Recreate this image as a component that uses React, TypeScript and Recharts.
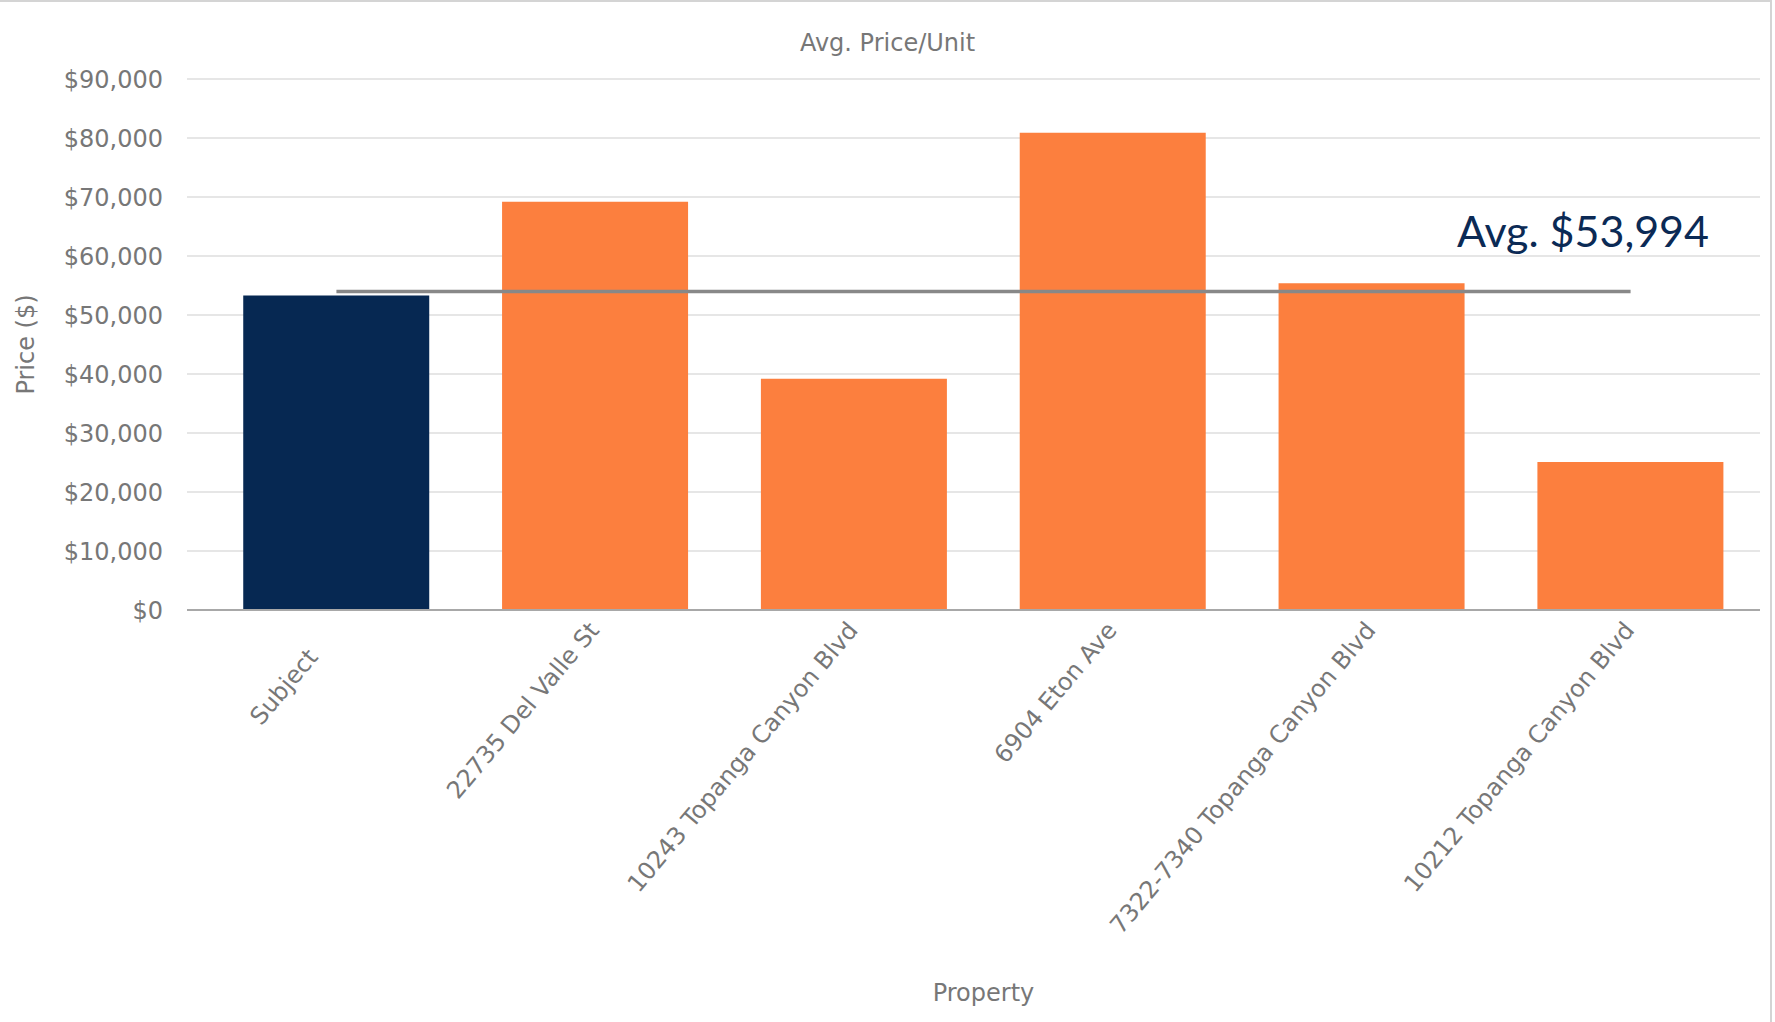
import { ComposedChart, Bar, Line, XAxis, YAxis, CartesianGrid, Cell, Label } from 'recharts';

const PROPERTIES = [
  'Subject',
  '22735 Del Valle St',
  '10243 Topanga Canyon Blvd',
  '6904 Eton Ave',
  '7322-7340 Topanga Canyon Blvd',
  '10212 Topanga Canyon Blvd',
];
const PRICE_PER_UNIT = [53300, 69200, 39200, 80900, 55400, 25100];
const AVG_PRICE = 53994;
const Y_TICKS = [0, 10000, 20000, 30000, 40000, 50000, 60000, 70000, 80000, 90000];
const BAR_COLORS = ['#062852', '#FC7F3E', '#FC7F3E', '#FC7F3E', '#FC7F3E', '#FC7F3E'];

const FONT = '"DejaVu Sans", sans-serif';
const GREY = '#777777';

const data = PROPERTIES.map((name, i) => ({ name, price: PRICE_PER_UNIT[i], avg: AVG_PRICE }));

const AngledTick = (props: any) => {
  const { x, y, payload, index } = props;
  // the subject label sits a little further down its slope in the original
  const along = index === 0 ? -35 : 0;
  return (
    <g transform={`translate(${x - 8},${y})`}>
      <text x={along} y={0} dy={17} textAnchor="end" transform="rotate(-50)" fill={GREY} fontSize={24} fontFamily={FONT}>
        {payload.value}
      </text>
    </g>
  );
};

export default function App() {
  return (
    <div style={{ position: 'absolute', left: 0, top: 0, width: 1775, height: 1022, background: '#fff', fontFamily: FONT }}>
      {/* frame edge */}
      <div style={{ position: 'absolute', left: 0, top: 0, width: 1772, height: 1022, borderTop: '2px solid #d4d4d4', borderRight: '2px solid #d4d4d4', boxSizing: 'border-box' }} />
      <div style={{ position: 'absolute', left: 0, top: 29, width: 1775, textAlign: 'center', fontSize: 24, color: GREY, lineHeight: '28px' }}>
        Avg. Price/Unit
      </div>
      <ComposedChart width={1775} height={1022} data={data} margin={{ top: 79, right: 15, bottom: 0, left: 0 }} barCategoryGap="14%">
        <CartesianGrid vertical={false} stroke="#e6e6e6" strokeWidth={2} />
        <XAxis
          dataKey="name"
          height={412}
          interval={0}
          padding={{ left: 20, right: 0 }}
          tickLine={false}
          tickSize={0}
          tickMargin={10}
          axisLine={{ stroke: '#a8a8a8', strokeWidth: 2 }}
          tick={<AngledTick />}
        >
          <Label value="Property" position="insideBottom" offset={21} dx={10} fill={GREY} fontSize={24} fontFamily={FONT} />
        </XAxis>
        <YAxis
          width={187}
          domain={[0, 90000]}
          ticks={Y_TICKS}
          axisLine={false}
          tickLine={false}
          tickSize={0}
          tickMargin={24}
          tick={{ fill: GREY, fontSize: 24, fontFamily: FONT }}
          tickFormatter={(v: number) => `$${v.toLocaleString('en-US')}`}
        >
          <Label value="Price ($)" angle={-90} position="insideLeft" offset={25} fill={GREY} fontSize={24} fontFamily={FONT} style={{ textAnchor: 'middle' }} />
        </YAxis>
        <Bar dataKey="price" isAnimationActive={false}>
          {data.map((d, i) => (
            <Cell key={d.name} fill={BAR_COLORS[i]} />
          ))}
        </Bar>
        <Line dataKey="avg" stroke="#888888" strokeWidth={3.5} dot={false} activeDot={false} isAnimationActive={false} />
      </ComposedChart>
      <div style={{ position: 'absolute', left: 1457, top: 209, fontFamily: 'Lato, sans-serif', fontSize: 43, lineHeight: 1, color: '#0B2A55', whiteSpace: 'nowrap' }}>
        Avg. ${AVG_PRICE.toLocaleString('en-US')}
      </div>
    </div>
  );
}
